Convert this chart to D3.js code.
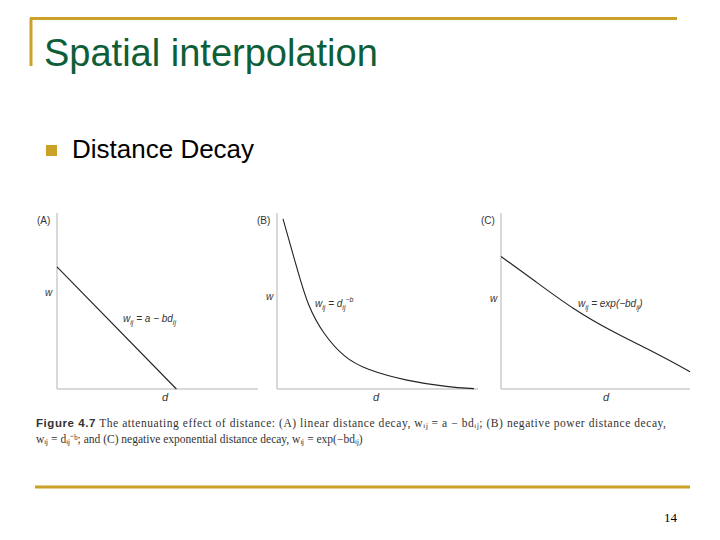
<!DOCTYPE html>
<html><head><meta charset="utf-8">
<script src="https://cdn.jsdelivr.net/npm/d3@7"></script>
<style>body{margin:0;background:#fff}</style>
</head><body>
<script>
// panel data (d and w in arbitrary 0-10 units)
var linD = [0, 5.94], linW = [7.06, 0];
var powD = [0.3, 1.05, 1.54, 2.29, 3.33, 4.38, 6.47, 8.56, 9.8];
var powW = [9.83, 6.74, 4.8, 3.2, 1.83, 1.14, 0.46, 0.11, 0.02];
var expD = [0, 1.64, 3.86, 6.08, 8.3, 10];
var expW = [7.66, 6.37, 4.57, 3.2, 2.03, 1.0];

var svg = d3.select("body").append("svg").attr("width", 720).attr("height", 540);
var gold = "#c9a227";

// slide frame
svg.append("line").attr("x1", 30).attr("x2", 677).attr("y1", 18.5).attr("y2", 18.5).attr("stroke", gold).attr("stroke-width", 3);
svg.append("line").attr("x1", 31).attr("x2", 31).attr("y1", 18).attr("y2", 66).attr("stroke", gold).attr("stroke-width", 3);
svg.append("line").attr("x1", 35).attr("x2", 690).attr("y1", 487).attr("y2", 487).attr("stroke", gold).attr("stroke-width", 3);

svg.append("text").attr("x", 44).attr("y", 66).text("Spatial interpolation")
  .attr("font-family", "Liberation Sans, Arial").attr("font-size", "38px").attr("fill", "#0e5e3a");
svg.append("rect").attr("x", 46).attr("y", 145).attr("width", 11).attr("height", 11).attr("fill", gold);
svg.append("text").attr("x", 72).attr("y", 158).text("Distance Decay")
  .attr("font-family", "Liberation Sans, Arial").attr("font-size", "26px").attr("fill", "#000");
svg.append("text").attr("x", 677).attr("y", 522).attr("text-anchor", "end").text("14")
  .attr("font-family", "Liberation Serif, Times").attr("font-size", "13px");

// formula parts: [text, kind] kind: n normal, s subscript, p superscript
var panels = [
  {tag: "(A)", x0: 57, x1: 258, d: linD, w: linW, f: [["w","n"],["ij","s"],[" = a \u2212 bd","n"],["ij","s"]], fx: 123, fy: 322, wx: 45, wy: 296, dx: 162, curve: d3.curveLinear},
  {tag: "(B)", x0: 277, x1: 478, d: powD, w: powW, f: [["w","n"],["ij","s"],[" = d","n"],["ij","s"],["\u2212b","p"]], fx: 315, fy: 307, wx: 266, wy: 300, dx: 373, curve: d3.curveBasis},
  {tag: "(C)", x0: 501, x1: 690, d: expD, w: expW, f: [["w","n"],["ij","s"],[" = exp(\u2212bd","n"],["ij","s"],[")","n"]], fx: 578, fy: 307, wx: 490, wy: 302, dx: 603, curve: d3.curveBasis}
];
var yTop = 213, yBot = 389;
var sans = "Liberation Sans, Arial";

function formula(t, parts){
  var shift = 0;
  parts.forEach(function(p){
    var target = p[1] == "s" ? 3 : p[1] == "p" ? -5 : 0;
    t.append("tspan").attr("dy", target - shift).attr("font-size", p[1] == "n" ? "10px" : "7px").text(p[0]);
    shift = target;
  });
}

panels.forEach(function(p){
  var x = d3.scaleLinear().domain([0, 10]).range([p.x0, p.x1]);
  var y = d3.scaleLinear().domain([0, 10]).range([yBot, yTop + 3]);
  var g = svg.append("g");
  g.append("line").attr("x1", p.x0).attr("x2", p.x0).attr("y1", yTop).attr("y2", yBot).attr("stroke", "#ccc").attr("stroke-width", 1.5);
  g.append("line").attr("x1", p.x0).attr("x2", p.x1).attr("y1", yBot).attr("y2", yBot).attr("stroke", "#ccc").attr("stroke-width", 1.5);
  var pts = p.d.map(function(v, i){ return [v, p.w[i]]; });
  g.append("path").attr("d", d3.line().x(function(q){return x(q[0]);}).y(function(q){return y(q[1]);}).curve(p.curve)(pts))
    .attr("fill", "none").attr("stroke", "#222").attr("stroke-width", 1.1);
  g.append("text").attr("x", p.x0 - 20).attr("y", 224).text(p.tag).attr("font-family", sans).attr("font-size", "10px").attr("fill", "#333");
  g.append("text").attr("x", p.wx).attr("y", p.wy).text("w").attr("font-family", sans).attr("font-style", "italic").attr("font-size", "10px").attr("fill", "#333");
  g.append("text").attr("x", p.dx).attr("y", 401).text("d").attr("font-family", sans).attr("font-style", "italic").attr("font-size", "11px").attr("fill", "#333");
  var t = g.append("text").attr("x", p.fx).attr("y", p.fy).attr("font-family", sans).attr("font-style", "italic").attr("fill", "#333");
  formula(t, p.f);
});

var cap = svg.append("text").attr("font-family", "Liberation Serif, Times").attr("font-size", "11.5px").attr("fill", "#333").attr("textLength", 630);
cap.append("tspan").attr("x", 36).attr("y", 427).attr("font-family", sans).attr("font-weight", "bold").text("Figure 4.7");
cap.append("tspan").text("  The attenuating effect of distance: (A) linear distance decay, w\u1D62\u2C7C = a \u2212 bd\u1D62\u2C7C; (B) negative power distance decay,");
svg.append("text").attr("font-family", "Liberation Serif, Times").attr("font-size", "11.5px").attr("fill", "#333")
  .attr("x", 36).attr("y", 443).text("w\u1D62\u2C7C = d\u1D62\u2C7C\u207B\u1D47; and (C) negative exponential distance decay, w\u1D62\u2C7C = exp(\u2212bd\u1D62\u2C7C)");
</script>
</body></html>
